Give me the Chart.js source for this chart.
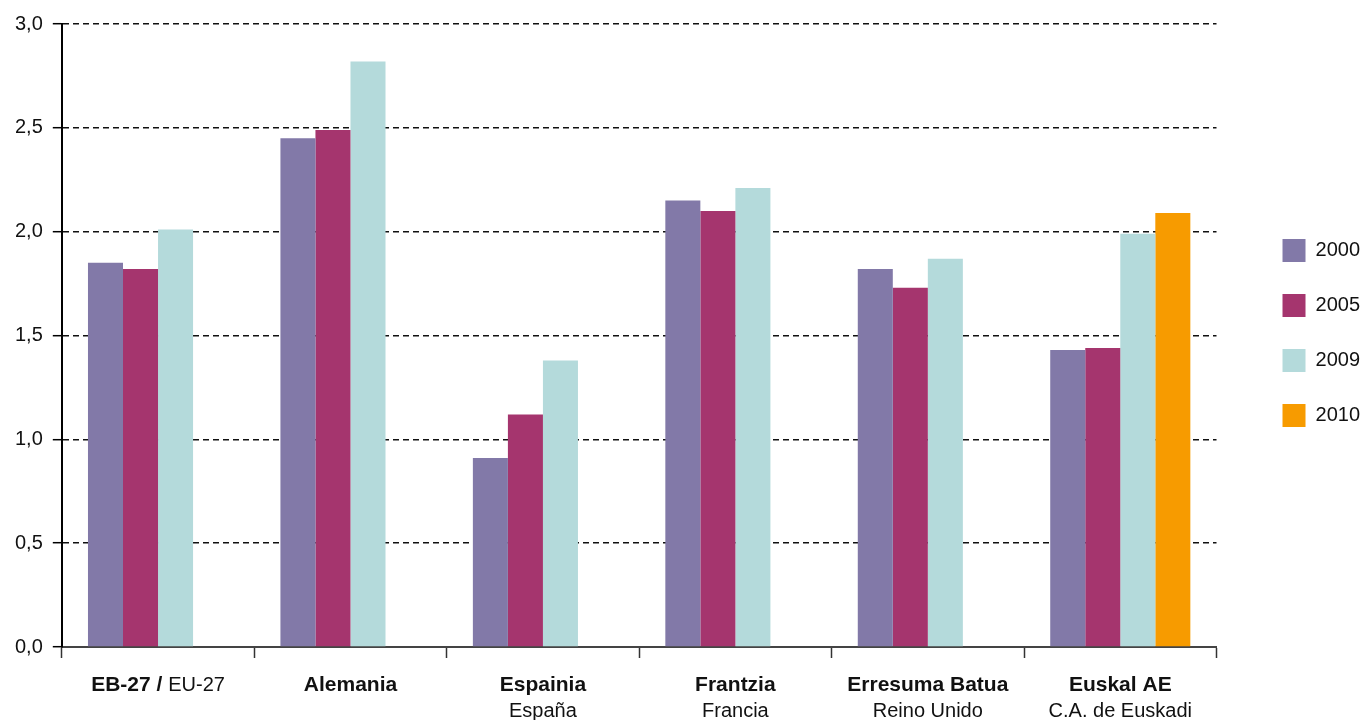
<!DOCTYPE html>
<html>
<head>
<meta charset="utf-8">
<script src="https://cdn.jsdelivr.net/npm/chart.js@4.4.1/dist/chart.umd.min.js"></script>
<style>
  html, body { margin: 0; padding: 0; background: #fff; }
  #wrap { width: 1365px; height: 720px; position: relative; }
</style>
</head>
<body>
<div id="wrap"><canvas id="c"></canvas></div>
<script>
// ---- data ----
const categories = ["EB-27 /", "Alemania", "Espainia", "Frantzia", "Erresuma Batua", "Euskal AE"];
const subLabels  = ["EU-27", "", "España", "Francia", "Reino Unido", "C.A. de Euskadi"];
const seriesNames = ["2000", "2005", "2009", "2010"];
const values2000 = [1.85, 2.45, 0.91, 2.15, 1.82, 1.43];
const values2005 = [1.82, 2.49, 1.12, 2.10, 1.73, 1.44];
const values2009 = [2.01, 2.82, 1.38, 2.21, 1.87, 1.99];
const values2010 = [null, null, null, null, null, 2.09];
const yTicks = [0, 0.5, 1.0, 1.5, 2.0, 2.5, 3.0];

const colors = ["#8279A8", "#A5356E", "#B4DADB", "#F79B00"];
const FONT = "'Liberation Sans', Arial, Helvetica, sans-serif";

const catLabelPlugin = {
  id: 'catLabels',
  afterDraw(chart) {
    const ctx = chart.ctx;
    const xs = chart.scales.x;
    const bottom = chart.chartArea.bottom;
    ctx.save();
    ctx.fillStyle = '#111';
    ctx.textBaseline = 'middle';
    categories.forEach((name, i) => {
      const x = xs.getPixelForValue(i);
      const y1 = bottom + 38, y2 = bottom + 64;
      if (i === 0) {
        ctx.font = "bold 21px " + FONT;
        const wb = ctx.measureText(name + " ").width;
        ctx.font = "20px " + FONT;
        const wn = ctx.measureText(subLabels[0]).width;
        const start = x - (wb + wn) / 2;
        ctx.textAlign = 'left';
        ctx.font = "bold 21px " + FONT;
        ctx.fillText(name + " ", start, y1);
        ctx.font = "20px " + FONT;
        ctx.fillText(subLabels[0], start + wb, y1);
      } else {
        ctx.textAlign = 'center';
        ctx.font = "bold 21px " + FONT;
        ctx.fillText(name, x, y1);
        ctx.font = "20px " + FONT;
        if (subLabels[i]) ctx.fillText(subLabels[i], x, y2);
      }
    });
    ctx.restore();
  }
};

// nudge the legend block to its place beside the plot
const legendShiftPlugin = {
  id: 'legendShift',
  afterLayout(chart) {
    const lg = chart.legend;
    if (!lg) return;
    const dx = 34, dy = -8;
    lg.left += dx; lg.right += dx;
    lg.top += dy; lg.bottom += dy;
  }
};

const seriesValues = [values2000, values2005, values2009, values2010];

new Chart(document.getElementById('c'), {
  type: 'bar',
  data: {
    labels: categories,
    datasets: seriesNames.map((n, k) => ({
      label: n,
      data: seriesValues[k],
      backgroundColor: colors[k],
      borderWidth: 0,
      categoryPercentage: 0.728,
      barPercentage: 1.0
    }))
  },
  options: {
    responsive: true,
    maintainAspectRatio: false,
    devicePixelRatio: 1,
    animation: false,
    layout: { padding: { top: 24, left: 5, bottom: 62, right: 29 } },
    plugins: {
      tooltip: { enabled: false },
      legend: {
        position: 'right',
        align: 'center',
        labels: {
          boxWidth: 23,
          boxHeight: 23,
          padding: 32,
          color: '#111',
          font: { family: FONT, size: 20 }
        }
      }
    },
    scales: {
      x: {
        offset: true,
        grid: {
          offset: true,
          drawOnChartArea: false,
          drawTicks: true,
          tickLength: 11,
          tickColor: '#333',
          tickWidth: 1.5
        },
        border: { display: true, color: '#444', width: 2 },
        ticks: { display: false }
      },
      y: {
        min: 0,
        max: 3,
        afterBuildTicks(scale) { scale.ticks = yTicks.map(v => ({ value: v })); },
        grid: {
          color: '#111',
          lineWidth: 1.4,
          drawTicks: true,
          tickLength: 9,
          tickColor: '#000',
          tickWidth: 1.5,
          tickBorderDash: []
        },
        border: { display: true, color: '#000', width: 2, dash: [6, 4] },
        ticks: {
          padding: 10,
          color: '#111',
          font: { family: FONT, size: 20 },
          callback: (v) => Number(v).toFixed(1).replace('.', ',')
        }
      }
    }
  },
  plugins: [catLabelPlugin, legendShiftPlugin]
});
</script>
</body>
</html>
